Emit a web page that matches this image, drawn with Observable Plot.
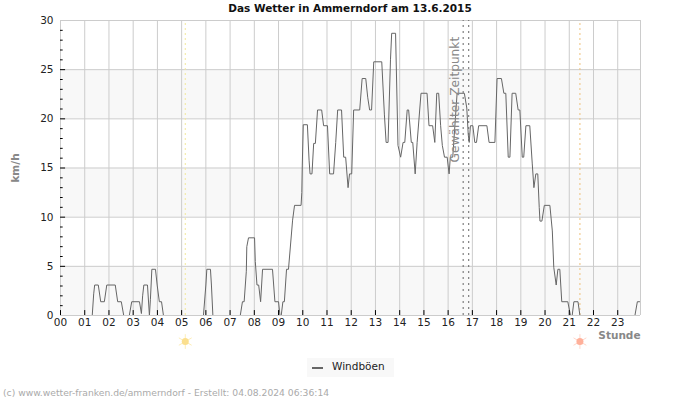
<!DOCTYPE html>
<html><head><meta charset="utf-8">
<script src="https://cdn.jsdelivr.net/npm/d3@7"></script>
<script src="https://cdn.jsdelivr.net/npm/@observablehq/plot@0.6"></script>
<style>
html,body{margin:0;padding:0;background:#fff}
#wrap{position:relative;width:700px;height:400px;overflow:hidden;font-family:"DejaVu Sans",sans-serif}
#wrap svg{position:absolute;left:0;top:0;background:transparent}
.t{position:absolute;white-space:nowrap}
</style></head><body>
<div id="wrap">
<div class="t" style="left:0;width:700px;top:1px;text-align:center;font-weight:bold;font-size:10.5px;color:#111;line-height:14px">Das Wetter in Ammerndorf am 13.6.2015</div>
<div class="t" style="left:3px;top:387px;font-size:9.2px;color:#aaa;line-height:12px">(c) www.wetter-franken.de/ammerndorf - Erstellt: 04.08.2024 06:36:14</div>
<div class="t" style="left:307px;top:358px;width:87px;height:19px;background:#f8f8f8"></div>
<div class="t" style="left:312px;top:367px;width:11px;height:2px;background:#666"></div>
<div class="t" style="left:332px;top:359px;font-size:10.5px;color:#222;line-height:14px">Windböen</div>
</div>
<script>
const hours = [1.31,1.37,1.41,1.56,1.66,1.81,1.91,2.26,2.36,2.51,2.61,2.84,2.94,3.26,3.34,3.39,3.44,3.59,3.67,3.71,3.74,3.77,3.92,3.99,4.08,4.17,4.25,5.90,6.00,6.04,6.19,6.23,6.29,7.42,7.51,7.58,7.67,7.69,7.76,8.01,8.04,8.11,8.18,8.26,8.34,8.75,8.85,9.00,9.06,9.11,9.18,9.24,9.33,9.41,9.58,9.66,9.93,9.96,9.98,10.02,10.19,10.26,10.30,10.38,10.45,10.52,10.61,10.78,10.86,11.02,11.11,11.27,11.36,11.44,11.60,11.69,11.77,11.87,11.93,12.02,12.10,12.35,12.45,12.60,12.68,12.76,12.84,12.93,13.26,13.37,13.44,13.52,13.62,13.67,13.83,13.93,14.04,14.14,14.21,14.31,14.37,14.48,14.54,14.64,14.72,14.88,15.13,15.21,15.36,15.45,15.53,15.61,15.69,15.76,15.85,15.96,16.04,16.09,16.19,16.37,16.67,16.77,16.83,16.87,16.92,17.02,17.10,17.17,17.26,17.60,17.69,17.93,18.02,18.20,18.30,18.38,18.48,18.55,18.64,18.79,18.89,18.96,19.06,19.12,19.21,19.37,19.47,19.54,19.62,19.70,19.76,19.79,19.87,19.97,20.20,20.30,20.36,20.46,20.53,20.61,20.69,20.94,21.05,21.12,21.19,21.36,21.44,23.71,23.81,23.90];
const gusts = [0,2.2,3.1,3.1,1.4,1.4,3.1,3.1,1.4,1.4,0,0,1.4,1.4,0.2,2,3.1,3.1,0,1.6,3.1,4.7,4.7,3.1,1.4,1.4,0,0,3.1,4.7,4.7,3.1,0,0,1.4,1.4,4.5,7,7.9,7.9,5.5,3.1,3.1,1.4,4.7,4.7,1.4,1.4,0,0,1.4,1.4,4.7,4.7,9.7,11.2,11.2,12.5,15.3,19.4,19.4,15.8,14.4,14.4,17.5,17.5,20.9,20.9,19.3,19.3,14.4,14.4,17.6,20.9,20.9,16.1,16.1,13,14.4,14.4,20.9,20.9,24.1,24.1,22.2,20.9,20.9,25.8,25.8,20.4,17.6,17.6,26,28.7,28.7,17.3,16.1,17.6,17.6,20.9,20.9,17.6,17.6,14.4,17.6,22.6,22.6,19.3,19.3,17.6,22.6,22.6,19.3,17.3,16.1,16.1,14.4,16.1,16.1,22.6,22.6,21.1,18.4,17.6,19.3,19.3,17.6,17.6,19.3,19.3,17.6,17.6,24.1,24.1,22.6,22.6,16.1,16.1,22.6,22.6,20.9,20.9,16.1,16.1,19.3,19.3,15.5,13,14.4,14.4,11,9.6,9.6,11.2,11.2,8.6,4.9,3.1,4.7,4.7,1.4,1.4,0,0,1.4,1.4,0,0,1.4,1.4];
const hourTicks = d3.range(0, 24);
const hourEnd = 23.94;
const majorY = [0,5,10,15,20,25,30];
const minorY = d3.range(0, 31).filter(v => v % 5 !== 0);
const bandLow = [0,10,20];
const bandHigh = [5,15,25];
const sunrise = 5.15, sunset = 21.44;
const selected = [16.62, 16.85];
const pts = hours.map((h,i)=>({h, v:gusts[i]}));

const plot = Plot.plot({
  width:700, height:400,
  marginLeft:60, marginRight:60, marginTop:20, marginBottom:85,
  style:{fontFamily:"DejaVu Sans", fontSize:"10.5px", background:"transparent"},
  x:{domain:[0,hourEnd], label:null},
  y:{domain:[0,30], label:null},
  marks:[
    Plot.rect(bandLow.map((b,i)=>({y1:b,y2:bandHigh[i]})),{x1:0,x2:hourEnd,y1:"y1",y2:"y2",fill:"#f8f8f8"}),
    Plot.ruleY(majorY,{x1:0,x2:hourEnd,stroke:"#ccc",strokeWidth:1,strokeOpacity:1}),
    Plot.ruleX([...hourTicks,hourEnd],{y1:0,y2:30,stroke:"#ccc",strokeWidth:1,strokeOpacity:1}),
    Plot.ruleX([sunrise],{y1:0,y2:30,stroke:"#f3e89a",strokeDasharray:"2,3"}),
    Plot.ruleX([sunset],{y1:0,y2:30,stroke:"#eec07a",strokeDasharray:"2,3"}),
    Plot.ruleX(selected,{y1:0,y2:30,stroke:"#666",strokeDasharray:"2,4"}),
    Plot.line(pts,{x:"h",y:"v",stroke:"#666",strokeWidth:1,curve:"linear"}),
    Plot.ruleY([0],{x1:0,x2:hourEnd,stroke:"#ccc",strokeOpacity:1}),
    Plot.ruleX(hourTicks,{y1:0,y2:0.5,stroke:"#000",strokeWidth:1,strokeOpacity:1}),
    Plot.ruleY(majorY.slice(1,-1),{x1:0,x2:0.21,stroke:"#000",strokeOpacity:1}),
    Plot.ruleY(minorY,{x1:0,x2:0.11,stroke:"#000",strokeOpacity:1}),
    Plot.axisX({ticks:hourTicks,tickSize:0,tickPadding:3,tickFormat:d=>String(d).padStart(2,"0"),fill:"#222",label:null}),
    Plot.axisY({ticks:majorY,tickSize:0,tickPadding:7,fill:"#222",label:null}),
    Plot.text(["Gewählter Zeitpunkt"],{x:[16.3],y:[21.95],rotate:-90,fill:"#888",fontSize:12.2,textAnchor:"middle"}),
    Plot.text(["km/h"],{frameAnchor:"left",dx:-45,rotate:-90,textAnchor:"middle",fill:"#888",fontWeight:"bold",fontSize:10.5}),
    Plot.text(["Stunde"],{frameAnchor:"bottom-right",dy:23,textAnchor:"end",fill:"#888",fontWeight:"bold",fontSize:10.5}),
    Plot.dot([sunrise],{x:d=>d,y:[-2.65],symbol:"asterisk",r:7,stroke:"#fdeeb8",strokeWidth:1}),
    Plot.dot([sunrise],{x:d=>d,y:[-2.65],r:3.5,fill:"#fbdf8e",stroke:"none"}),
    Plot.dot([sunset],{x:d=>d,y:[-2.65],symbol:"asterisk",r:7,stroke:"#ffd8cc",strokeWidth:1}),
    Plot.dot([sunset],{x:d=>d,y:[-2.65],r:3.5,fill:"#ffb09a",stroke:"none"})
  ]
});
document.getElementById("wrap").prepend(plot);
</script>
</body></html>
